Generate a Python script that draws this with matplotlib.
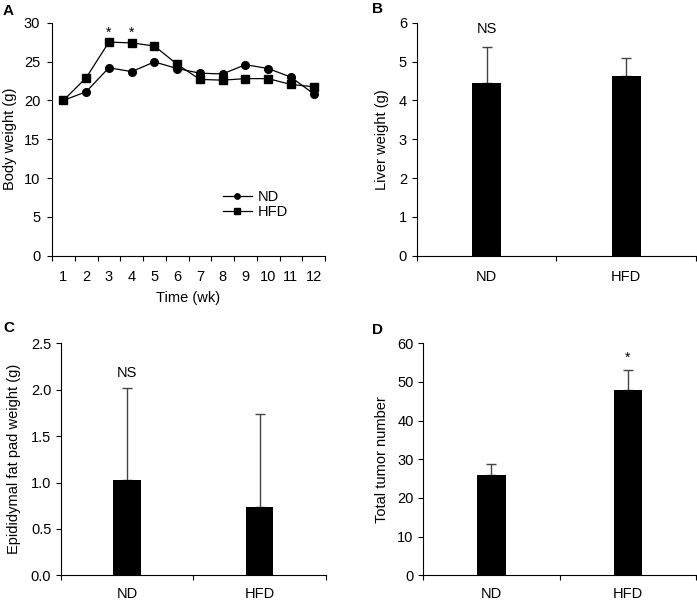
import numpy as np
import matplotlib
matplotlib.use("Agg")
import matplotlib.pyplot as plt

plt.rcParams['font.family'] = ['Liberation Sans', 'DejaVu Sans']
plt.rcParams['font.size'] = 10.5

# panel A - body weight
weeks = [1, 2, 3, 4, 5, 6, 7, 8, 9, 10, 11, 12]
nd_weight = [20.0, 21.1, 24.2, 23.7, 24.95, 24.1, 23.5, 23.4, 24.6, 24.1, 23.0, 20.85]
hfd_weight = [20.0, 22.9, 27.5, 27.4, 27.0, 24.65, 22.7, 22.6, 22.8, 22.8, 22.05, 21.75]
star_weeks = [3, 4]

# panels B-D - bars
groups = ["ND", "HFD"]
liver = [4.44, 4.63]
liver_err = [0.93, 0.45]
fat = [1.024, 0.74]
fat_err = [0.99, 1.0]
tumor = [26.0, 48.0]
tumor_err = [2.9, 5.2]

W, H = 697, 601
fig = plt.figure(figsize=(W / 100, H / 100), dpi=100)


def box(l, t, r, b):
    return [l / W, 1 - b / H, (r - l) / W, (b - t) / H]


def clean(ax, ypad):
    ax.spines['top'].set_visible(False)
    ax.spines['right'].set_visible(False)
    for s in ['left', 'bottom']:
        ax.spines[s].set_linewidth(0.8)
    ax.tick_params(direction='out', length=3.5, width=0.8)
    ax.tick_params(axis='y', pad=ypad)


# ---- A ----
ax = fig.add_axes(box(52, 22.7, 325, 255.7))
clean(ax, 5)
ax.plot(weeks, nd_weight, '-o', color='black', lw=0.9, ms=5.5, label='ND')
ax.plot(weeks, hfd_weight, '-s', color='black', lw=0.9, ms=5.5, label='HFD')
ax.set_xlim(0.5, 12.5)
ax.set_ylim(0, 30)
ax.set_yticks(np.arange(0, 31, 5))
ax.set_xticks(np.arange(0.5, 13, 1))
ax.set_xticklabels([])
ax.set_xticks(weeks, minor=True)
ax.set_xticklabels([str(w) for w in weeks], minor=True)
ax.tick_params(axis='x', which='minor', length=0, pad=10)
ax.set_xlabel('Time (wk)', labelpad=5.5)
ax.set_ylabel('Body weight (g)')
ax.yaxis.set_label_coords((17 - 52) / 273, 0.5)
for w in star_weeks:
    ax.text(w, 28.7, '*', ha='center', va='center', fontsize=10)
leg = ax.legend(loc='center left', bbox_to_anchor=(0.626, 0.22), frameon=False,
                borderpad=0, borderaxespad=0,
                handlelength=2.0, handletextpad=0.4, labelspacing=0.1, markerscale=0.7)
fig.text(3 / W, 1 - 11 / H, 'A', fontsize=11, fontweight='bold', va='center')


def bar_panel(l, t, r, b, vals, errs, ylim, ticks, fmt, ylabel, ylab_right, xpad,
              mark, mark_idx, mark_y, letter, lx, ly):
    ax = fig.add_axes(box(l, t, r, b))
    clean(ax, 3.5)
    xs = [0.5, 1.5]
    ax.bar(xs, vals, width=0.21, color='black', zorder=2)
    ax.errorbar(xs, vals, yerr=[[0, 0], errs], fmt='none', ecolor='#444444',
                elinewidth=1, capsize=3.6, capthick=1, zorder=1)
    ax.set_xlim(0, 2)
    ax.set_ylim(*ylim)
    ax.set_yticks(ticks)
    ax.set_yticklabels([fmt.format(v) for v in ticks])
    ax.set_xticks([0, 1, 2])
    ax.set_xticklabels([])
    ax.set_xticks(xs, minor=True)
    ax.set_xticklabels(groups, minor=True)
    ax.tick_params(axis='x', which='minor', length=0, pad=xpad)
    ax.set_ylabel(ylabel)
    ax.yaxis.set_label_coords((ylab_right - l) / (r - l), 0.5)
    ax.text(xs[mark_idx], mark_y, mark, ha='center', va='center',
            fontsize=10 if mark == '*' else 10.5)
    fig.text(lx / W, 1 - ly / H, letter, fontsize=11, fontweight='bold', va='center')
    return ax


bar_panel(416.7, 22.7, 696, 255.7, liver, liver_err, (0, 6), np.arange(0, 7, 1), '{:.0f}',
          'Liver weight (g)', 389, 10, 'NS', 0, 5.85, 'B', 372, 9)
bar_panel(61, 343.3, 325.7, 575.3, fat, fat_err, (0, 2.5), np.arange(0, 2.6, 0.5), '{:.1f}',
          'Epididymal fat pad weight (g)', 21, 8.5, 'NS', 0, 2.18, 'C', 3, 328)
bar_panel(423.3, 343.3, 696, 575.3, tumor, tumor_err, (0, 60), np.arange(0, 61, 10), '{:.0f}',
          'Total tumor number', 389, 8.5, '*', 1, 56.3, 'D', 372, 330)

fig.savefig('out.png', dpi=100)
